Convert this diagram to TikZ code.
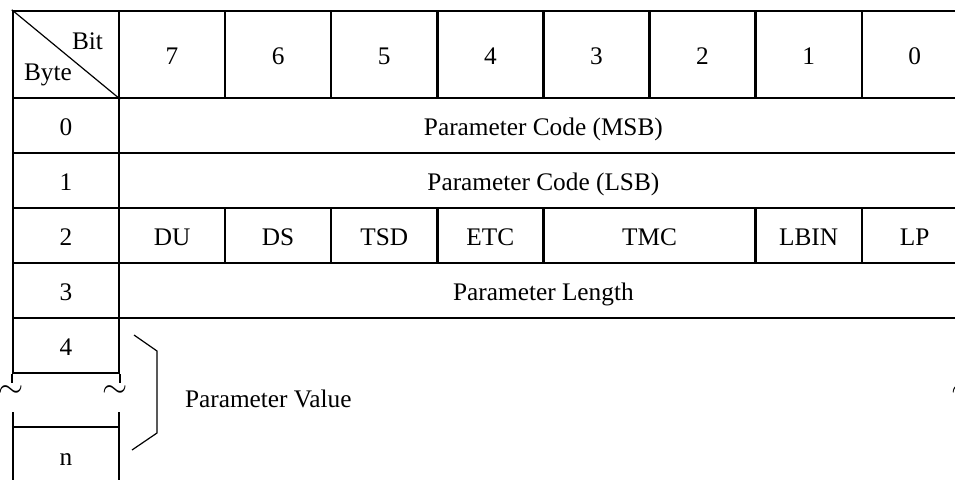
\documentclass[tikz,border=0pt]{standalone}
\usepackage{fontspec}
\setmainfont{Liberation Serif}
\usepackage{tikz}
\usetikzlibrary{positioning}

\begin{document}
\begin{tikzpicture}[
		x=0.5pt, y=-0.5pt,
		every node/.style={font=\fontsize{12.65}{15}\selectfont},
		cell/.style={draw, line width=1.2pt, inner sep=0pt, minimum width=53.05pt,
			minimum height=27.5pt, text height=10pt, text depth=0.5pt},
		bytecell/.style={cell, minimum width=53pt},
		wide/.style={cell, minimum width=424.4pt},
		thinline/.style={line width=0.6pt},
		wave/.style={inner sep=0pt, scale=1.35},
		]
		\useasboundingbox (0,0) rectangle (955,479);
		\clip (0,0) rectangle (955,479);
		
		% L'en-tete
		\node[bytecell, minimum height=43.5pt] (hd) at (66,54.5) {};
		\draw[thinline] (hd.north west) -- (hd.south east);
		\node[anchor=base east] (bit) at (110,49) {Bit};
		\node[anchor=base west] (byte) at (17,80) {Byte};
		\foreach \b [count=\i from 0] in {7,6,...,0}
			\node[cell, minimum height=43.5pt] (h\b) at ({172.05+106.1*\i},54.5) {\b};
		
		% Les octets
		\foreach \r in {0,...,4}
			\node[bytecell] (b\r) at (66,{125.5+55*\r}) {\r};
		\node[wide] (msb) at (543.4,125.5) {Parameter Code (MSB)};
		\node[wide] (lsb) at (543.4,180.5) {Parameter Code (LSB)};
		\node[wide] (len) at (543.4,290.5) {Parameter Length};
		
		% Les bits de l'octet 2
		\node[cell] (du) at (172.05,235.5) {DU};
		\node[cell] (ds) at (278.15,235.5) {DS};
		\node[cell] (tsd) at (384.25,235.5) {TSD};
		\node[cell] (etc) at (490.35,235.5) {ETC};
		\node[cell, minimum width=106.1pt] (tmc) at (649.5,235.5) {TMC};
		\node[cell] (lbin) at (808.65,235.5) {LBIN};
		\node[cell] (lp) at (914.75,235.5) {LP};
		
		% La coupure
		\draw[line width=1.2pt] (b4.south west) -- ++(0,9);
		\draw[line width=1.2pt] (b4.south east) -- ++(0,9);
		\node[wave] (t1) at (11,392) {$\sim$};
		\node[wave] (t2) at (115,392) {$\sim$};
		\node[wave] (t3) at (964,392) {$\sim$};
		
		% L'octet n
		\node[bytecell, draw=none] (bn) at (66,455.5) {n};
		\draw[line width=1.2pt] (13,412) -- (13,490) (119,412) -- (119,490);
		\draw[line width=1.2pt] (bn.north west) -- (bn.north east);
		
		% L'accolade
		\draw[thinline] (134,335) -- (157,351) -- (157,433) -- (132,450);
		\node[anchor=base west] (pv) at (178,407) {Parameter Value};
	\end{tikzpicture}
\end{document}
